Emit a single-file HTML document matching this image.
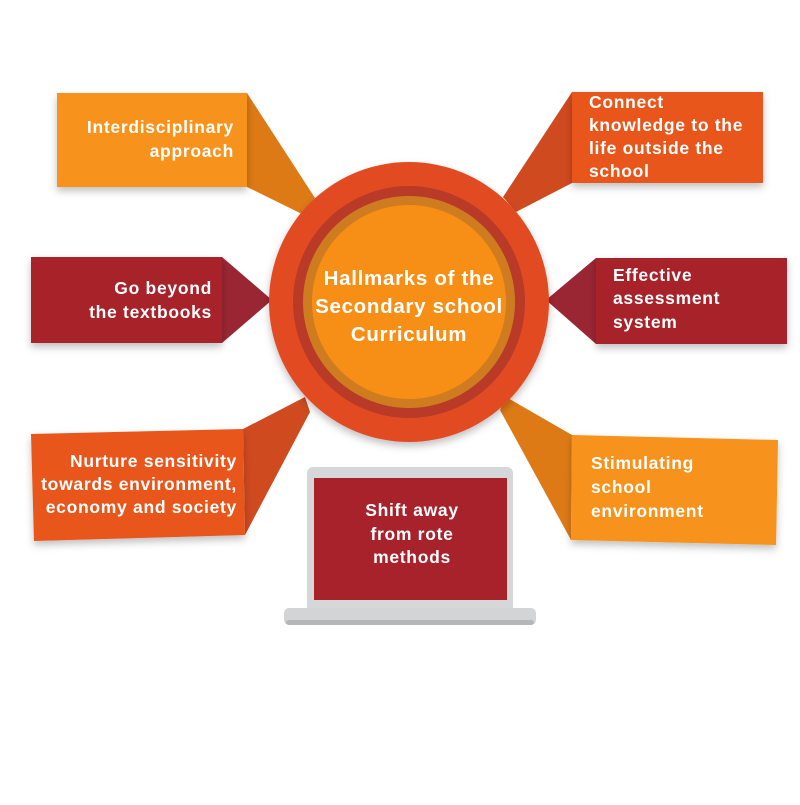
<!DOCTYPE html>
<html><head><style>
body{margin:0;background:#fff;}
svg text{font-family:"Liberation Sans",sans-serif;font-weight:bold;fill:#fff;font-size:17.5px;letter-spacing:0.7px;}
</style></head><body>
<svg width="800" height="800" viewBox="0 0 800 800" xmlns="http://www.w3.org/2000/svg">
<defs>
<filter id="sh" x="-20%" y="-20%" width="140%" height="150%"><feDropShadow dx="0" dy="4" stdDeviation="4" flood-color="#000" flood-opacity="0.25"/></filter>
</defs>
<polygon points="247,93 315,198 302,214 247,187" fill="#de7a16"/>
<polygon points="572,92 503,197 516,212 572,183" fill="#d04a20"/>
<polygon points="222,257 272,300 222,343" fill="#9a2634"/>
<polygon points="596,258 546,300 596,344" fill="#9a2634"/>
<polygon points="243,429 305,397 310,412 245,535" fill="#d04a20"/>
<polygon points="572,435 506,397 500,410 571,540" fill="#de7a16"/>
<g filter="url(#sh)">
<rect x="57" y="93" width="190" height="94" fill="#f7921e"/>
<rect x="572" y="92" width="191" height="91" fill="#e8561f"/>
<rect x="31" y="257" width="191" height="86" fill="#a8222b"/>
<rect x="596" y="258" width="191" height="86" fill="#a8222b"/>
<polygon points="31,434 243,429 245,535 34,541" fill="#e8561f"/>
<polygon points="572,435 778,440 776,545 571,540" fill="#f7921e"/>
</g>
<circle cx="409" cy="302" r="140" fill="#e24c24" filter="url(#sh)"/>
<circle cx="409" cy="302" r="116" fill="#b93a26"/>
<circle cx="409" cy="302" r="106" fill="#cf7c20"/>
<circle cx="409" cy="302" r="97" fill="#f78f16"/>
<g style="font-size:20.5px;letter-spacing:0.6px">
<text x="409" y="285" text-anchor="middle" style="font-size:20.5px">Hallmarks of the</text>
<text x="409" y="313" text-anchor="middle" style="font-size:20.5px">Secondary school</text>
<text x="409" y="341" text-anchor="middle" style="font-size:20.5px">Curriculum</text>
</g>
<rect x="307" y="467" width="206" height="146" rx="6" fill="#d6d7d9"/>
<rect x="314" y="478" width="193" height="122" fill="#a8222b"/>
<rect x="284" y="608" width="252" height="17" rx="5" fill="#d3d4d6"/>
<rect x="286" y="620" width="248" height="5" rx="3" fill="#b5b6b8"/>
<text x="234" y="133" text-anchor="end">Interdisciplinary</text>
<text x="234" y="157" text-anchor="end">approach</text>
<text x="589" y="108">Connect</text>
<text x="589" y="131">knowledge to the</text>
<text x="589" y="154">life outside the</text>
<text x="589" y="177">school</text>
<text x="212" y="294" text-anchor="end">Go beyond</text>
<text x="212" y="318" text-anchor="end">the textbooks</text>
<text x="613" y="281">Effective</text>
<text x="613" y="304">assessment</text>
<text x="613" y="328">system</text>
<text x="237" y="467" text-anchor="end">Nurture sensitivity</text>
<text x="237" y="490" text-anchor="end">towards environment,</text>
<text x="237" y="513" text-anchor="end">economy and society</text>
<text x="591" y="469">Stimulating</text>
<text x="591" y="493">school</text>
<text x="591" y="517">environment</text>
<text x="412" y="516" text-anchor="middle">Shift away</text>
<text x="412" y="540" text-anchor="middle">from rote</text>
<text x="412" y="563" text-anchor="middle">methods</text>
</svg>
</body></html>
